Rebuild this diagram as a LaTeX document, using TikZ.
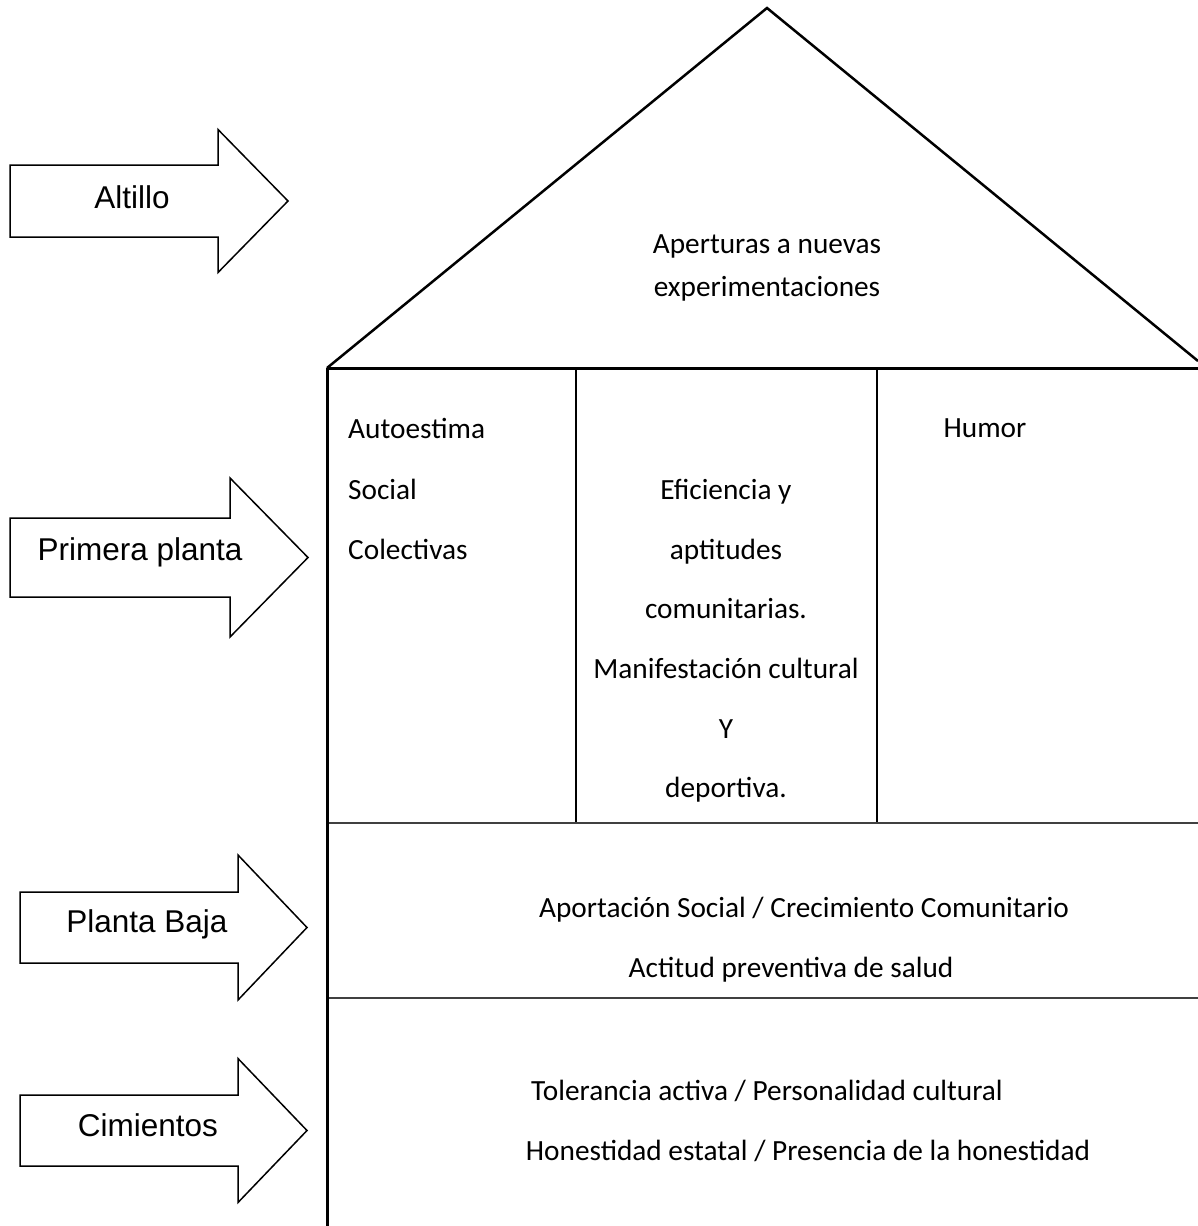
\documentclass[tikz,border=0pt]{standalone}
\usepackage{fontspec}
\setmainfont{Carlito}
\newfontfamily\arialfont{Liberation Sans}
\usetikzlibrary{positioning}

% flecha: nombre, x izq, y centro, medio cuerpo, media cabeza, x base cabeza, x punta
\newcommand{\flecha}[7]{%
  \draw[flechalinea] (#2,#3-#4) -- (#6,#3-#4) -- (#6,#3-#5) -- (#7,#3) coordinate (#1punta)
    -- (#6,#3+#5) -- (#6,#3+#4) -- (#2,#3+#4) -- cycle;
}

\begin{document}
\begin{tikzpicture}[
    x=1pt, y=-1pt,
    every node/.style={font=\fontsize{29.3}{35}\selectfont, inner sep=0pt},
    etiqueta/.style={font=\arialfont\fontsize{31.5}{38}\selectfont},
    flechalinea/.style={draw=black, line width=1.5pt, line join=miter},
    muro/.style={draw=black, line width=3pt},
    techo/.style={draw=black, line width=2.5pt, line join=miter},
    divisor/.style={draw=black, line width=1.3pt},
    piso/.style={draw=black!75, line width=2pt}
  ]
  \useasboundingbox (0,0) rectangle (1198,1226);

  % flechas de la izquierda
  \flecha{altillo}{10}{201}{36}{71.5}{218}{288}
  \flecha{primera}{10}{557.5}{39.5}{79.5}{230}{308}
  \flecha{baja}{20}{927.5}{35.5}{72.5}{238}{307}
  \flecha{cimientos}{20}{1130.5}{35.5}{72}{238}{307}
  \node[etiqueta] (tAltillo) at (132,197) {Altillo};
  \node[etiqueta] (tPrimera) at (140,552) {Primera planta};
  \node[etiqueta] (tBaja) at (147,924) {Planta Baja};
  \node[etiqueta] (tCimientos) at (148,1125) {Cimientos};

  % casa
  \coordinate (cumbre) at (767,8);
  \coordinate (aleroIzq) at (327,368);
  \coordinate (aleroDer) at (1198,361);
  \coordinate (techoDer) at (1198,368);
  \coordinate (base) at (327,1226);
  \coordinate (div1a) at (576,368);
  \coordinate (div1b) at (576,823);
  \coordinate (div2a) at (877,368);
  \coordinate (div2b) at (877,823);
  \coordinate (piso1a) at (327,823);
  \coordinate (piso1b) at (1198,823);
  \coordinate (piso2a) at (327,998);
  \coordinate (piso2b) at (1198,998);

  \draw[techo] (aleroIzq) -- (cumbre) -- (aleroDer);
  \draw[muro] (aleroIzq) -- (techoDer);
  \draw[divisor] (div1a) -- (div1b);
  \draw[divisor] (div2a) -- (div2b);
  \draw[piso] (piso1a) -- (piso1b);
  \draw[piso] (piso2a) -- (piso2b);
  \draw[muro] (aleroIzq) -- (base);

  % textos
  \node[align=center, font=\fontsize{29.3}{43}\selectfont] (aperturas) at (767,268)
    {Aperturas a nuevas\\experimentaciones};
  \node[align=left, anchor=west, font=\fontsize{29.3}{60.5}\selectfont] (autoestima) at (348,489)
    {Autoestima\\Social\\Colectivas};
  \node (humor) at (985,428) {Humor};
  \node[align=center, font=\fontsize{29.3}{59.6}\selectfont] (eficiencia) at (726,641)
    {Eficiencia y\\aptitudes\\comunitarias.\\Manifestación cultural\\Y\\deportiva.};
  \node (aportacion) at (804,910) {Aportación Social / Crecimiento Comunitario};
  \node (actitud) at (791,970) {Actitud preventiva de salud};
  \node (tolerancia) at (767,1091) {Tolerancia activa / Personalidad cultural};
  \node (honestidad) at (808,1151) {Honestidad estatal / Presencia de la honestidad};
\end{tikzpicture}
\end{document}
